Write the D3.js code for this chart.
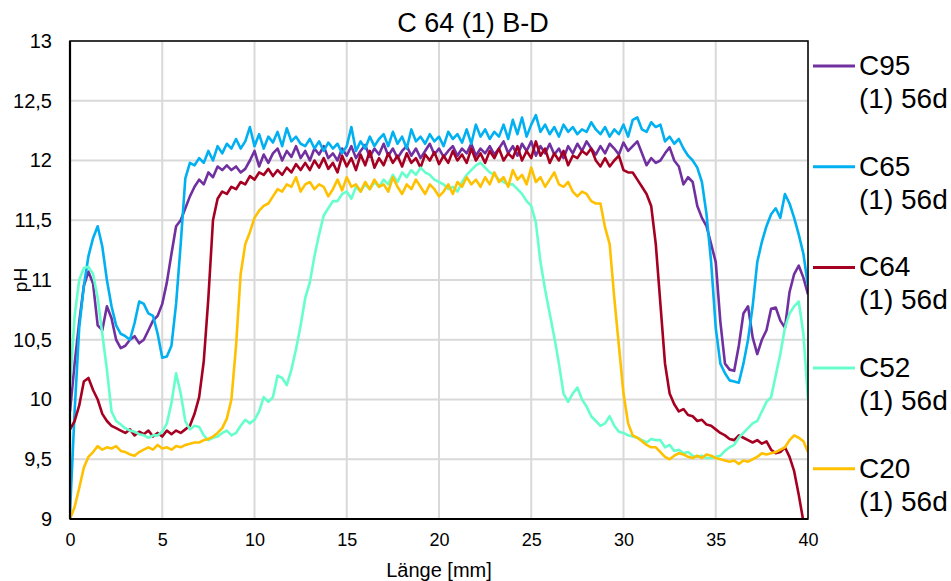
<!DOCTYPE html>
<meta charset="utf-8">
<style>
body { margin: 0; background: #fff; }
text { font-family: "Liberation Sans", Arial, sans-serif; fill: #000; }
</style>
<body></body>
<script src="https://d3js.org/d3.v7.min.js"></script>
<script>
// sample positions along the profile [mm]
const positions = [
  0,0.25,0.5,0.75,1,1.25,1.5,1.75,2,2.25,2.5,2.75,3,3.25,3.5,3.75,4,4.25,4.5,4.75,
  5,5.25,5.5,5.75,6,6.25,6.5,6.75,7,7.25,7.5,7.75,8,8.25,8.5,8.75,9,9.25,9.5,9.75,
  10,10.25,10.5,10.75,11,11.25,11.5,11.75,12,12.25,12.5,12.75,13,13.25,13.5,13.75,14,14.25,14.5,14.75,
  15,15.25,15.5,15.75,16,16.25,16.5,16.75,17,17.25,17.5,17.75,18,18.25,18.5,18.75,19,19.25,19.5,19.75,
  20,20.25,20.5,20.75,21,21.25,21.5,21.75,22,22.25,22.5,22.75,23,23.25,23.5,23.75,24,24.25,24.5,24.75,
  25,25.25,25.5,25.75,26,26.25,26.5,26.75,27,27.25,27.5,27.75,28,28.25,28.5,28.75,29,29.25,29.5,29.75,
  30,30.25,30.5,30.75,31,31.25,31.5,31.75,32,32.25,32.5,32.75,33,33.25,33.5,33.75,34,34.25,34.5,34.75,
  35,35.25,35.5,35.75,36,36.25,36.5,36.75,37,37.25,37.5,37.75,38,38.25,38.5,38.75,39,39.25,39.5,39.75,40
]

const c95 = [
  9.9,10.3,10.65,10.95,11.07,10.97,10.62,10.58,10.78,10.68,10.5,10.43,10.45,10.5,10.53,10.47,10.5,10.58,10.66,10.7,
  10.8,10.98,11.22,11.45,11.5,11.6,11.7,11.78,11.84,11.8,11.9,11.86,11.95,11.92,11.96,11.92,11.95,11.9,11.93,12.0,
  12.08,11.95,12.05,11.98,12.06,12.1,12.0,12.08,12.03,12.12,12.02,12.08,12.0,12.1,12.05,12.12,12.02,12.06,12.0,12.1,
  12.04,12.12,12.02,12.08,12.13,12.03,12.1,12.05,12.14,12.04,12.1,12.02,12.08,12.12,12.04,12.1,12.02,12.08,12.14,12.05,
  12.1,12.03,12.08,12.12,12.04,12.1,12.06,12.14,12.04,12.1,12.06,12.12,12.05,12.1,12.16,12.06,12.12,12.04,12.14,12.08,
  12.16,12.04,12.12,12.06,12.14,12.05,12.1,12.02,12.12,12.06,12.14,12.08,12.16,12.1,12.05,12.12,12.06,12.14,12.1,12.05,
  12.15,12.08,12.12,12.16,12.06,11.96,12.02,11.98,12.0,12.06,12.11,12.0,11.95,11.8,11.86,11.82,11.62,11.52,11.45,11.3,
  11.15,10.65,10.3,10.25,10.24,10.45,10.72,10.78,10.52,10.38,10.5,10.58,10.76,10.77,10.66,10.6,10.9,11.05,11.12,11.02,10.88
]

const c65 = [
  9.05,9.9,10.6,10.95,11.2,11.35,11.45,11.28,11.0,10.78,10.62,10.55,10.53,10.5,10.64,10.82,10.8,10.72,10.7,10.55,
  10.35,10.36,10.45,10.8,11.3,11.85,11.98,11.96,12.02,11.98,12.08,12.0,12.12,12.06,12.14,12.1,12.18,12.1,12.16,12.28,
  12.12,12.22,12.1,12.2,12.15,12.24,12.12,12.27,12.16,12.2,12.14,12.12,12.18,12.1,12.16,12.08,12.15,12.1,12.14,12.06,
  12.12,12.28,12.08,12.16,12.1,12.2,12.12,12.18,12.22,12.12,12.24,12.14,12.2,12.1,12.26,12.16,12.2,12.14,12.22,12.16,
  12.2,12.12,12.24,12.18,12.22,12.15,12.26,12.14,12.3,12.2,12.26,12.18,12.24,12.2,12.3,12.18,12.34,12.22,12.36,12.2,
  12.3,12.38,12.24,12.3,12.22,12.28,12.2,12.3,12.24,12.28,12.22,12.26,12.24,12.32,12.26,12.22,12.28,12.2,12.26,12.22,
  12.3,12.2,12.34,12.36,12.26,12.24,12.32,12.28,12.3,12.16,12.2,12.14,12.18,12.1,12.04,12.0,11.94,11.82,11.55,11.15,
  10.6,10.3,10.22,10.16,10.15,10.14,10.3,10.5,10.78,11.15,11.32,11.45,11.55,11.6,11.52,11.72,11.64,11.52,11.38,11.22,10.95
]

const c64 = [
  9.75,9.82,9.95,10.15,10.18,10.08,10.0,9.88,9.82,9.78,9.76,9.74,9.72,9.75,9.7,9.73,9.71,9.74,9.69,9.72,
  9.69,9.74,9.71,9.74,9.72,9.75,9.78,9.88,10.02,10.32,10.85,11.5,11.68,11.74,11.72,11.78,11.76,11.82,11.8,11.87,
  11.84,11.9,11.88,11.93,11.87,11.92,11.88,11.94,11.9,11.97,11.92,11.98,11.92,12.0,11.94,12.02,11.93,11.98,11.9,12.04,
  11.95,12.02,11.92,12.05,11.96,12.08,11.94,12.02,11.96,12.06,11.98,12.04,11.95,12.06,11.98,12.02,11.94,12.05,12.0,12.07,
  11.97,12.04,11.98,12.08,12.0,12.05,11.98,12.1,12.0,12.06,11.98,12.08,12.02,12.1,12.0,12.06,12.02,12.12,12.0,12.08,
  12.02,12.16,12.04,12.1,11.98,12.06,12.0,12.08,11.96,12.04,12.02,12.08,12.05,12.1,12.0,11.95,12.02,11.95,12.0,12.04,
  11.92,11.9,11.9,11.84,11.78,11.72,11.62,11.3,10.8,10.3,10.05,9.96,9.9,9.92,9.87,9.86,9.82,9.83,9.79,9.78,
  9.75,9.72,9.7,9.67,9.66,9.7,9.68,9.66,9.64,9.66,9.63,9.65,9.58,9.55,9.56,9.6,9.52,9.4,9.2,8.98,8.85
]

const c52 = [
  10.1,10.7,11.0,11.1,11.11,11.05,10.85,10.55,10.25,9.9,9.82,9.79,9.76,9.74,9.73,9.71,9.7,9.68,9.7,9.7,
  9.73,9.8,9.97,10.22,10.05,9.82,9.75,9.78,9.77,9.7,9.66,9.68,9.69,9.72,9.74,9.7,9.72,9.78,9.83,9.8,
  9.83,9.9,10.02,9.98,10.02,10.2,10.18,10.12,10.25,10.42,10.62,10.85,10.98,11.2,11.38,11.54,11.6,11.66,11.66,11.72,
  11.74,11.68,11.78,11.74,11.8,11.76,11.82,11.78,11.84,11.8,11.88,11.82,11.9,11.86,11.92,11.88,11.94,11.9,11.88,11.84,
  11.82,11.8,11.76,11.78,11.74,11.82,11.88,11.92,11.96,11.98,11.94,11.9,11.88,11.84,11.82,11.8,11.8,11.76,11.72,11.66,
  11.62,11.48,11.15,10.92,10.72,10.52,10.3,10.05,9.98,10.05,10.1,10.0,9.94,9.86,9.82,9.78,9.8,9.86,9.78,9.73,
  9.72,9.7,9.69,9.68,9.66,9.64,9.67,9.66,9.66,9.6,9.62,9.57,9.58,9.55,9.56,9.53,9.52,9.53,9.51,9.51,
  9.52,9.53,9.57,9.6,9.62,9.68,9.72,9.76,9.8,9.82,9.9,9.98,10.02,10.2,10.38,10.6,10.72,10.78,10.82,10.55,10.0
]

const c20 = [
  9.0,9.1,9.26,9.43,9.52,9.56,9.61,9.58,9.6,9.59,9.61,9.57,9.56,9.54,9.53,9.56,9.58,9.6,9.58,9.62,
  9.59,9.6,9.58,9.61,9.6,9.62,9.63,9.64,9.64,9.66,9.67,9.69,9.72,9.76,9.84,10.0,10.45,11.05,11.3,11.4,
  11.52,11.58,11.62,11.64,11.7,11.76,11.74,11.8,11.78,11.86,11.74,11.8,11.82,11.76,11.8,11.78,11.7,11.76,11.84,11.75,
  11.86,11.78,11.8,11.74,11.82,11.76,11.84,11.78,11.8,11.74,11.86,11.78,11.72,11.8,11.76,11.84,11.78,11.72,11.8,11.76,
  11.7,11.74,11.8,11.72,11.82,11.78,11.86,11.8,11.84,11.78,11.86,11.8,11.9,11.82,11.86,11.78,11.92,11.84,11.88,11.8,
  11.94,11.82,11.86,11.78,11.84,11.9,11.8,11.78,11.82,11.74,11.7,11.74,11.72,11.66,11.64,11.64,11.44,11.3,10.85,10.45,
  10.05,9.8,9.7,9.68,9.65,9.62,9.6,9.6,9.56,9.52,9.5,9.53,9.55,9.54,9.52,9.51,9.53,9.51,9.54,9.53,
  9.51,9.5,9.49,9.48,9.49,9.46,9.49,9.48,9.5,9.52,9.55,9.54,9.55,9.56,9.58,9.6,9.66,9.7,9.68,9.65,9.56
]

const seriesNames = ['C95', 'C65', 'C64', 'C52', 'C20']
const seriesValues = [c95, c65, c64, c52, c20]
const seriesColors = ['#7030A0', '#00B0F0', '#A50021', '#66FFCC', '#FFC000']
const xTicks = [0, 5, 10, 15, 20, 25, 30, 35, 40]
const yTicks = [9, 9.5, 10, 10.5, 11, 11.5, 12, 12.5, 13]

const width = 951
const height = 581
const margins = { top: 41, right: 143, bottom: 62, left: 70 }
const plotW = width - margins.left - margins.right
const plotH = height - margins.top - margins.bottom

const svg = d3.select('body').append('svg')
    .attr('width', width)
    .attr('height', height)

const xScale = d3.scaleLinear().domain([0, 40]).range([0, plotW])
const yScale = d3.scaleLinear().domain([9, 13]).range([plotH, 0])

const g = svg.append('g')
    .attr('transform', `translate(${margins.left}, ${margins.top})`)

// grid
g.append('g').selectAll('line')
    .data(xTicks)
    .join('line')
        .attr('x1', d => xScale(d)).attr('x2', d => xScale(d))
        .attr('y1', 0).attr('y2', plotH)
        .attr('stroke', '#d9d9d9').attr('stroke-width', 2)
g.append('g').selectAll('line')
    .data(yTicks)
    .join('line')
        .attr('x1', 0).attr('x2', plotW)
        .attr('y1', d => yScale(d)).attr('y2', d => yScale(d))
        .attr('stroke', '#d9d9d9').attr('stroke-width', 2)

// axes (labels only, lines drawn as frame)
const xAxis = g.append('g')
    .attr('transform', `translate(0, ${plotH})`)
    .call(d3.axisBottom(xScale).tickValues(xTicks).tickSize(0).tickPadding(14))
xAxis.select('.domain').remove()
xAxis.selectAll('text').style('font-size', '18px').style('font-family', '"Liberation Sans", Arial, sans-serif')

const fmt = d => String(d).replace('.', ',')
const yAxis = g.append('g')
    .call(d3.axisLeft(yScale).tickValues(yTicks).tickFormat(fmt).tickSize(0).tickPadding(18))
yAxis.select('.domain').remove()
yAxis.selectAll('text').style('font-size', '20px').style('font-family', '"Liberation Sans", Arial, sans-serif')

// data lines
g.append('clipPath').attr('id', 'clip')
  .append('rect').attr('width', plotW).attr('height', plotH)

const line = d3.line()
    .x((d, i) => xScale(positions[i]))
    .y(d => yScale(d))

g.append('g').attr('clip-path', 'url(#clip)')
  .selectAll('path')
    .data(seriesValues)
    .join('path')
        .attr('d', d => line(d))
        .attr('fill', 'none')
        .attr('stroke', (d, i) => seriesColors[i])
        .attr('stroke-width', 2.6)
        .attr('stroke-linejoin', 'round')

// frame
g.append('rect')
    .attr('width', plotW).attr('height', plotH)
    .attr('fill', 'none').attr('stroke', '#000').attr('stroke-width', 1.5)
g.append('line').attr('x1', 0).attr('x2', 0).attr('y1', 0).attr('y2', plotH)
    .attr('stroke', '#000').attr('stroke-width', 2.2)
g.append('line').attr('x1', 0).attr('x2', plotW).attr('y1', plotH).attr('y2', plotH)
    .attr('stroke', '#000').attr('stroke-width', 2.2)

// title and axis titles
svg.append('text')
    .attr('x', 473).attr('y', 32)
    .attr('text-anchor', 'middle')
    .style('font-size', '27px')
    .text('C 64 (1) B-D')
svg.append('text')
    .attr('x', margins.left + plotW / 2).attr('y', 577)
    .attr('text-anchor', 'middle')
    .style('font-size', '20px')
    .text('Länge [mm]')
svg.append('text')
    .attr('transform', `translate(27, ${margins.top + plotH / 2}) rotate(-90)`)
    .attr('text-anchor', 'middle')
    .style('font-size', '19px')
    .text('pH')

// legend
const legend = svg.append('g').attr('transform', 'translate(813, 66)')
const item = legend.selectAll('g')
    .data(seriesNames)
    .join('g')
        .attr('transform', (d, i) => `translate(0, ${i * 100.7})`)
item.append('line')
    .attr('x1', 0).attr('x2', 42)
    .attr('stroke', (d, i) => seriesColors[i])
    .attr('stroke-width', 3)
item.append('text')
    .attr('x', 46).attr('y', 9)
    .style('font-size', '28px')
    .text(d => d)
item.append('text')
    .attr('x', 46).attr('y', 42)
    .style('font-size', '28px')
    .text('(1) 56d')
</script>
